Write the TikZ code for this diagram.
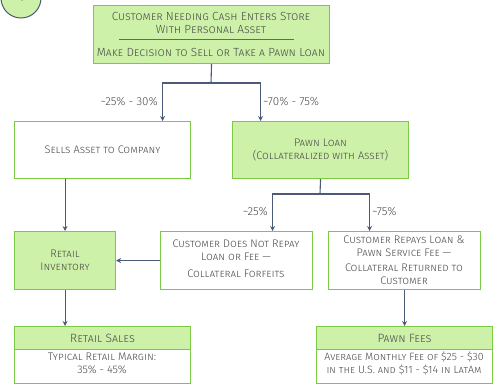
\documentclass[tikz,border=0pt]{standalone}
\usepackage{fontspec}
\setmainfont{Fira Sans Light}
\usetikzlibrary{arrows.meta,calc}
\definecolor{gfill}{HTML}{CDF1A8}
\definecolor{gline}{HTML}{7CC943}
\definecolor{slate}{HTML}{4B5A76}
\definecolor{txt}{HTML}{4A4A4A}
\newcommand\scfont{\fontsize{11}{13}\selectfont\scshape}
\newcommand\topscfont{\fontsize{11.8}{13}\selectfont\scshape}
\newcommand\bigscfont{\fontsize{12}{13}\selectfont\scshape}
\newcommand\smscfont{\fontsize{10.6}{13}\selectfont\scshape}
\newcommand\pctfont{\fontsize{11.6}{12}\selectfont}
\tikzset{
 box/.style={draw=gline, line width=1.1pt, inner sep=0pt, anchor=north west},
 gbox/.style={box, fill=gfill},
 wbox/.style={box, fill=white},
 label/.style={text=txt, align=center, inner sep=0pt, font=\scfont},
 conn/.style={draw=slate, line width=1.1pt},
 arr/.style={conn, -{Stealth[length=5pt,width=5pt]}},
 pct/.style={text=txt, font=\pctfont, inner sep=0pt}
}
\begin{document}
\begin{tikzpicture}[x=1pt,y=-1pt]
\useasboundingbox (0,0) rectangle (496,385);
\clip (0,0) rectangle (496,385);
% number badge
\node[circle, draw=slate, fill=gfill, line width=1pt, minimum size=40pt, inner sep=0pt, text=slate, font=\fontsize{11}{11}\selectfont] (badge) at (21,-2) {4};
% boxes
\node[gbox, minimum width=236pt, minimum height=58pt] (top) at (93,5) {};
\node[wbox, minimum width=176pt, minimum height=57pt] (sells) at (14,121) {};
\node[gbox, minimum width=176pt, minimum height=57pt] (pawn) at (232,121) {};
\node[gbox, minimum width=101pt, minimum height=58pt] (inv) at (14,231) {};
\node[wbox, minimum width=152pt, minimum height=58pt] (norepay) at (160,231) {};
\node[wbox, minimum width=152pt, minimum height=58pt] (repay) at (328,231) {};
\node[wbox, minimum width=176pt, minimum height=57pt] (rs) at (14,326) {};
\node[gbox, minimum width=176pt, minimum height=23pt] (rsh) at (14,326) {};
\node[wbox, minimum width=176pt, minimum height=57pt] (pf) at (316,326) {};
\node[gbox, minimum width=176pt, minimum height=23pt] (pfh) at (316,326) {};
% texts
\node[label, font=\topscfont] (topA) at (211,22.5) {Customer Needing Cash Enters Store\\With Personal Asset};
\coordinate (ruleL) at (119,40);
\coordinate (ruleR) at (294,40);
\draw[draw=slate!80!gline, line width=1pt] (ruleL) -- (ruleR);
\node[label, font=\topscfont] (topB) at (211,52) {Make Decision to Sell or Take a Pawn Loan};
\node[label] (sellsT) at (sells.center) {Sells Asset to Company};
\node[label] (pawnT) at (pawn.center) {Pawn Loan\\(Collateralized with Asset)};
\node[label] (invT) at (inv.center) {Retail\\Inventory};
\node[label] (norepayA) at (236,250) {Customer Does Not Repay\\Loan or Fee —};
\node[label] (norepayB) at (236,274) {Collateral Forfeits};
\node[label] (repayA) at (404,246) {Customer Repays Loan \&\\Pawn Service Fee —};
\node[label] (repayB) at (404,274) {Collateral Returned to\\Customer};
\node[label, font=\bigscfont] (rshT) at (rsh.center) {Retail Sales};
\node[label] (rsT) at (102,363.5) {Typical Retail Margin:\\35\% - 45\%};
\node[label, font=\bigscfont] (pfhT) at (pfh.center) {Pawn Fees};
\node[label, font=\smscfont] (pfT) at (404,363.5) {Average Monthly Fee of \$25 - \$30\\in the U.S. and \$11 - \$14 in LatAm};
% connectors
\coordinate (j1) at (211,83);
\draw[conn] (top.south) -- (j1);
\draw[arr] (j1) -| ([xshift=60pt]sells.north);
\draw[arr] (j1) -| ([xshift=-60pt]pawn.north);
\node[pct, anchor=east] (p1) at (158,102) {\textasciitilde25\% - 30\%};
\node[pct, anchor=west] (p2) at (263,102) {\textasciitilde70\% - 75\%};
\draw[arr] (inv.north |- sells.south) -- (inv.north);
\coordinate (j2) at (320,194);
\draw[conn] (pawn.south) -- (j2);
\draw[arr] (j2) -| ([xshift=36pt]norepay.north);
\draw[arr] (j2) -| ([xshift=-35pt]repay.north);
\node[pct, anchor=east] (p3) at (268,212) {\textasciitilde25\%};
\node[pct, anchor=west] (p4) at (372,212) {\textasciitilde75\%};
\draw[arr] (norepay.west) -- (inv.east);
\draw[arr] (inv.south) -- (inv.south |- rsh.north);
\draw[arr] (repay.south) -- (pfh.north);
\end{tikzpicture}
\end{document}
